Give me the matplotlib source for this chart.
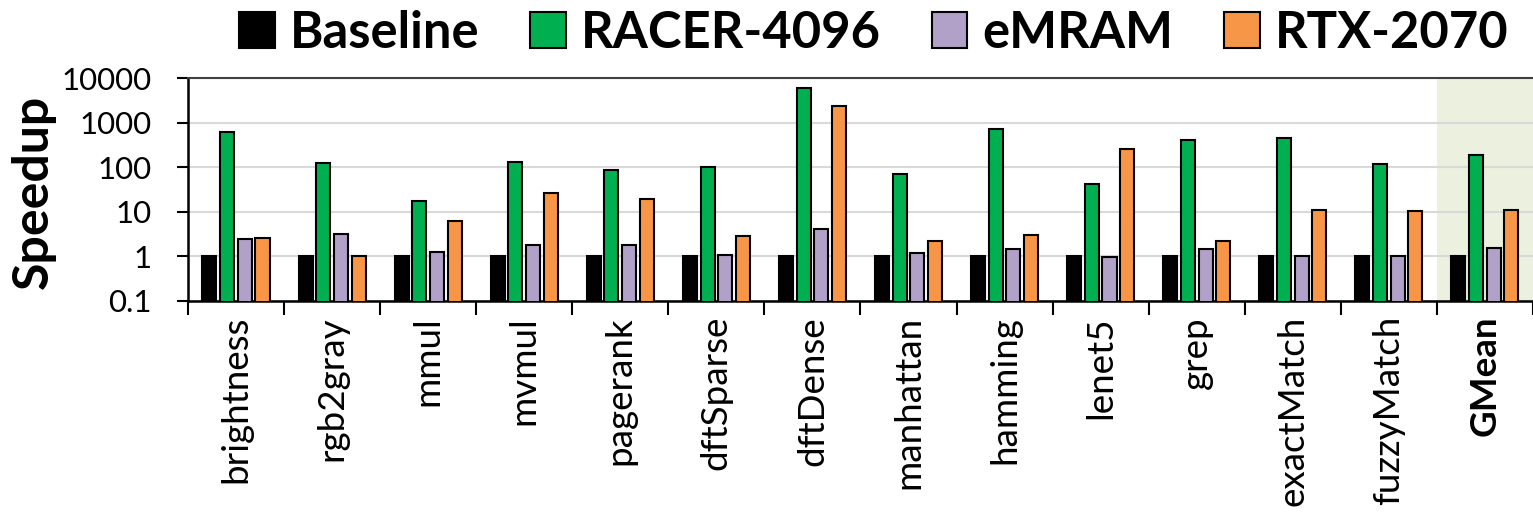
import numpy as np
import matplotlib.pyplot as plt
from matplotlib.patches import Patch

plt.rcParams['font.family'] = ['Lato', 'DejaVu Sans']

# Benchmarks and speedup over baseline (log scale)
benchmarks = ['brightness', 'rgb2gray', 'mmul', 'mvmul', 'pagerank', 'dftSparse',
              'dftDense', 'manhattan', 'hamming', 'lenet5', 'grep', 'exactMatch',
              'fuzzyMatch', 'GMean']
baseline = [1, 1, 1, 1, 1, 1, 1, 1, 1, 1, 1, 1, 1, 1]
racer = [612, 123, 17.2, 134, 85, 104, 6070, 71, 727, 42, 414, 464, 121, 190]
emram = [2.5, 3.1, 1.27, 1.77, 1.77, 1.05, 4.2, 1.17, 1.47, 0.98, 1.47, 1.0, 1.0, 1.54]
rtx = [2.6, 1.0, 6.3, 27, 19.5, 2.87, 2430, 2.2, 2.96, 253, 2.17, 11, 10.3, 10.8]

series = [baseline, racer, emram, rtx]
names = ['Baseline', 'RACER-4096', 'eMRAM', 'RTX-2070']
colors = ['#000000', '#00b050', '#b1a0c7', '#f79646']

fig = plt.figure(figsize=(15.33, 5.14), dpi=100)
ax = fig.add_axes([0.1226, 0.415, 0.8774, 0.4324])

x = np.arange(len(benchmarks))
width = 0.146
pitch = 0.184
for i, (vals, c) in enumerate(zip(series, colors)):
    ax.bar(x + (i - 1.5) * pitch, vals, width, color=c,
           edgecolor='black', linewidth=1.5, zorder=3)

# shaded geometric-mean group
ax.axvspan(12.5, 13.5, color='#ebf1de', zorder=0, lw=0)

ax.set_yscale('log')
ax.set_ylim(0.1, 10000)
ax.set_xlim(-0.5, 13.5)
ax.set_yticks([0.1, 1, 10, 100, 1000, 10000])
ax.set_yticklabels(['0.1', '1', '10', '100', '1000', '10000'])
ax.yaxis.set_minor_locator(plt.NullLocator())
ax.tick_params(axis='y', labelsize=22.5, length=8, width=1.5, pad=18)
ax.grid(axis='y', color='#d9d9d9', linewidth=1.5, zorder=1)

ax.set_xticks(x)
ax.set_xticklabels(benchmarks, rotation=90, fontsize=26.5)
ax.get_xticklabels()[-1].set_fontweight('bold')
ax.set_xticks(np.arange(-0.5, 13.6, 1), minor=True)
ax.tick_params(axis='x', which='major', length=0, pad=11)
ax.tick_params(axis='x', which='minor', length=10, width=1.5)

ax.set_ylabel('Speedup', fontsize=36, fontweight='bold')
ax.yaxis.set_label_coords(-0.098, 0.49)

for s in ['left', 'bottom']:
    ax.spines[s].set_linewidth(1.8)
ax.spines['top'].set_color('#404040')
ax.spines['top'].set_linewidth(1.5)
ax.spines['right'].set_visible(False)

handles = [Patch(facecolor=c, edgecolor='black', linewidth=1.5) for c in colors]
fig.legend(handles, names, loc='center', bbox_to_anchor=(0.57, 0.935), ncol=4,
           frameon=False, prop={'size': 36.5, 'weight': 'bold'},
           handlelength=0.7, handleheight=0.7, handletextpad=0.3,
           columnspacing=1.0)

fig.savefig('out.png', dpi=100)
